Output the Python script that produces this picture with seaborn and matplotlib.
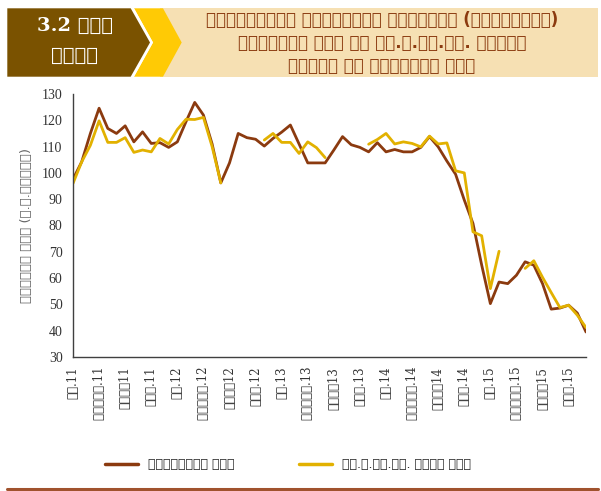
import numpy as np
import pandas as pd
import matplotlib
matplotlib.use("Agg")
import matplotlib.pyplot as plt
from matplotlib.patches import Polygon, Rectangle
from matplotlib.lines import Line2D
import seaborn as sns

# ---------------- data ----------------
years = ["11", "12", "13", "14", "15"]
quarter_names = ["ජන.", "අප්‍රේ.", "ජූලි", "ඔක්."]
tick_labels = [q + y for y in years for q in quarter_names]

brent_price = [97.6, 104.2, 115.0, 124.6, 116.9, 115.0, 117.9, 111.8, 115.6, 111.2, 111.5, 109.7,
               111.8, 119.5, 126.8, 122.0, 111.0, 96.2, 103.8, 115.0, 113.4, 112.8, 110.2, 113.1,
               115.5, 118.2, 111.0, 103.8, 103.8, 103.8, 108.7, 113.8, 110.7, 109.7, 108.0, 111.5,
               108.0, 108.9, 108.0, 108.0, 109.7, 113.8, 109.9, 104.5, 99.5, 89.7, 80.8, 65.0,
               50.3, 58.5, 57.9, 61.1, 66.2, 64.9, 57.9, 48.2, 48.6, 49.7, 46.7, 39.5]

cpc_import_price = [96.0, 104.2, 110.5, 119.8, 111.6, 111.6, 113.4, 107.8, 108.7, 108.0, 113.1, 111.0,
                    116.5, 120.4, 120.3, 121.1, 110.0, 96.2, np.nan, np.nan, np.nan, np.nan, 112.5, 115.0,
                    111.6, 111.6, 107.4, 111.8, 109.6, 105.8, np.nan, np.nan, np.nan, np.nan, 110.9, 112.7,
                    115.0, 111.0, 111.8, 111.2, 109.9, 114.0, 111.0, 111.4, 100.8, 100.0, 77.6, 76.1,
                    56.0, 70.2, np.nan, np.nan, 63.7, 66.6, 60.3, 54.5, 48.8, 49.7, 45.9, 41.2]

series_names = ["බ්‍රෙන්ට් මිල", "ලං.බ.නි.සං. ආනයන මිල"]
series_colors = ["#8B3A0F", "#E2B100"]

# ---------------- long-form table with segments (gaps kept) ----------------
frames = []
for name, vals in zip(series_names, [brent_price, cpc_import_price]):
    v = np.asarray(vals, dtype=float)
    seg = np.cumsum(np.isnan(v))
    d = pd.DataFrame({"month": np.arange(len(v)), "price": v,
                      "series": name, "segment": [f"{name}_{s}" for s in seg]})
    frames.append(d.dropna())
df = pd.concat(frames, ignore_index=True)

# ---------------- figure ----------------
W, H = 601, 491
fig = plt.figure(figsize=(W / 100, H / 100), dpi=100)
sns.set_style("white")
plt.rcParams["font.family"] = ["Liberation Serif", "DejaVu Sans"]

SIN_SERIF = ["DejaVu Serif"]
SIN_SANS = ["DejaVu Sans"]

def fx(x):
    return x / W

def fy(y):
    return 1 - y / H

ax = fig.add_axes([fx(73), fy(357), fx(586) - fx(73), fy(94) - fy(357)])

sns.lineplot(data=df, x="month", y="price", hue="series", units="segment",
             estimator=None, palette=dict(zip(series_names, series_colors)),
             hue_order=series_names, linewidth=2.0, ax=ax, legend=True, sort=False)

ax.get_legend().remove()

ax.set_xlim(0, 59)
ax.set_ylim(30, 130)
ax.set_yticks(np.arange(30, 131, 10))
ax.set_xticks(np.arange(0, 60, 3))
ax.set_xticklabels(tick_labels, rotation=90, fontsize=8.5, color="#333333",
                   family=SIN_SERIF)
ax.tick_params(axis="y", labelsize=10, colors="#404040", direction="out", length=4, width=1)
ax.tick_params(axis="x", direction="out", length=4, width=1, colors="#404040", pad=3)
for lab in ax.get_yticklabels():
    lab.set_color("#333333")
for lab in ax.get_xticklabels():
    lab.set_color("#333333")
ax.set_xlabel("")
ax.set_ylabel("බැරලයක මිල (එ.ජ.ඩොලර්)", fontsize=9.5, color="#666666",
              family=SIN_SANS, labelpad=6)
sns.despine(ax=ax)
for s in ["left", "bottom"]:
    ax.spines[s].set_color("#404040")
    ax.spines[s].set_linewidth(1.0)
ax.grid(False)

# ---------------- header ----------------
beige = Rectangle((fx(160), fy(76.7)), fx(598) - fx(160), fy(8.3) - fy(76.7),
                  transform=fig.transFigure, facecolor="#F6E0B3", edgecolor="none")
fig.add_artist(beige)
yellow = Polygon([(fx(134), fy(8.3)), (fx(163), fy(8.3)), (fx(181.7), fy(42.5)),
                  (fx(163), fy(76.7)), (fx(134), fy(76.7)), (fx(153), fy(42.5))],
                 closed=True, transform=fig.transFigure, facecolor="#FFCA05", edgecolor="none")
fig.add_artist(yellow)
white = Polygon([(fx(130.7), fy(8.3)), (fx(134), fy(8.3)), (fx(153), fy(42.5)),
                 (fx(134), fy(76.7)), (fx(130.7), fy(76.7)), (fx(150), fy(42.5))],
                closed=True, transform=fig.transFigure, facecolor="white", edgecolor="none")
fig.add_artist(white)
brown = Polygon([(fx(7.3), fy(8.3)), (fx(130.7), fy(8.3)), (fx(150), fy(42.5)),
                 (fx(130.7), fy(76.7)), (fx(7.3), fy(76.7))],
                closed=True, transform=fig.transFigure, facecolor="#7A5200", edgecolor="none")
fig.add_artist(brown)

fig.text(fx(75), fy(26), "3.2 රූප", ha="center", va="center", color="white",
         fontsize=14, fontweight="bold", family=SIN_SERIF)
fig.text(fx(75), fy(56), "සටහන", ha="center", va="center", color="white",
         fontsize=14, fontweight="bold", family=SIN_SERIF)

title_lines = ["ජාත්‍යන්තර වෙළඳපොළේ බොරතෙල් (බ්‍රෙන්ට්)",
               "සාමාන්‍ය මිල හා ලං.බ.නි.සං. මගින්",
               "ආනයනය කළ බොරතෙල් මිල"]
for i, line in enumerate(title_lines):
    fig.text(fx(382), fy(20 + 23 * i), line, ha="center", va="center", color="#8B3A0F",
             fontsize=12, fontweight="bold", family=SIN_SANS)

# ---------------- legend ----------------
leg_handles = [Line2D([0], [0], color=c, lw=2.5) for c in series_colors]
fig.legend(leg_handles, series_names, loc="center left", bbox_to_anchor=(fx(105), fy(465)),
           ncol=2, frameon=False, handlelength=2.6, handletextpad=0.8, columnspacing=5.2,
           borderpad=0, borderaxespad=0, prop={"family": SIN_SANS, "size": 9})

# ---------------- bottom rule ----------------
fig.add_artist(Line2D([fx(7), fx(598)], [fy(489), fy(489)], transform=fig.transFigure,
                      color="#A0522D", lw=2.2))

fig.savefig("out.png", dpi=100)
